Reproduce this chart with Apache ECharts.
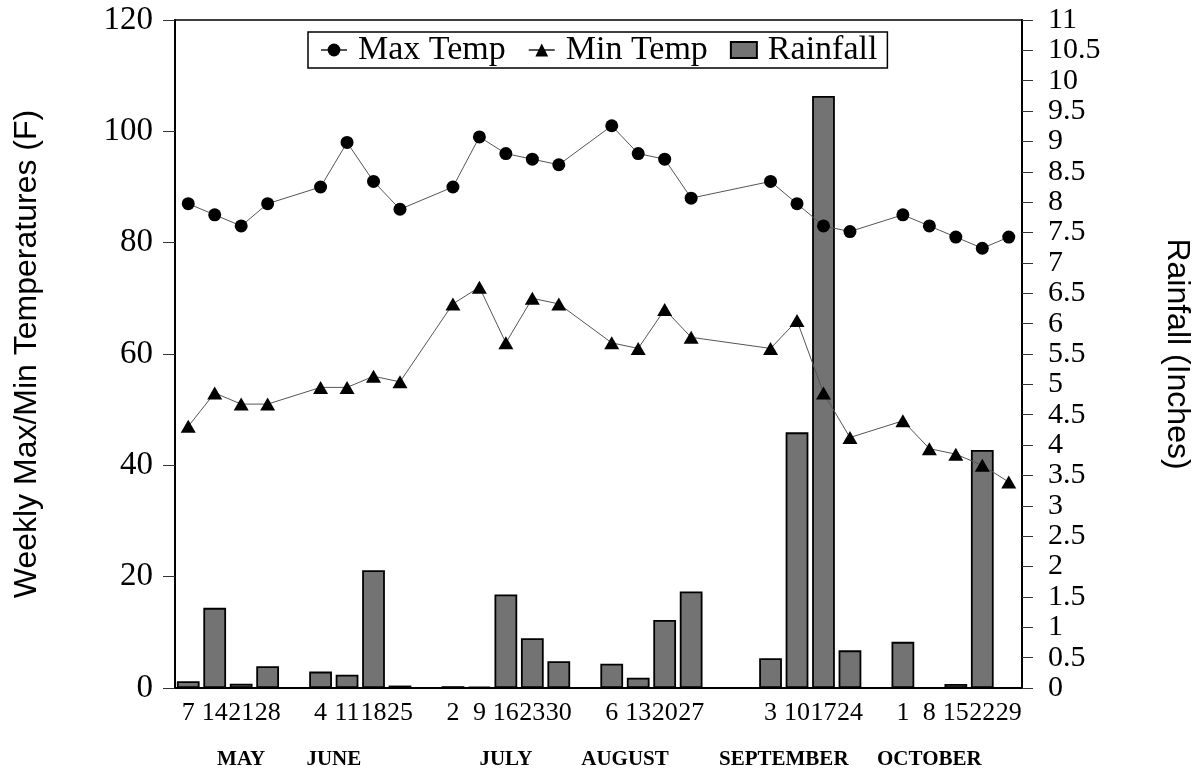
<html>

<head>
    <meta charset="utf-8"/>
    <title>Weekly temperatures and rainfall</title>
    <script src="https://cdn.jsdelivr.net/npm/echarts@6/dist/echarts.min.js"></script>
    <style>
            body {
                margin: 0;
                padding: 0;
                background: #fff;
            }
            #chart {
                width: 1197px;
                height: 771px;
            }
    </style>
</head>

<body>
<div id="chart"></div>
<script type="text/javascript">
// week start days, '' = spacer slot between months
let days = ['7', '14', '21', '28', '',
  '4', '11', '18', '25', '',
  '2', '9', '16', '23', '30', '',
  '6', '13', '20', '27', '', '',
  '3', '10', '17', '24', '',
  '1', '8', '15', '22', '29'];

let maxTemp = [87, 85, 83, 87, null,
  90, 98, 91, 86, null,
  90, 99, 96, 95, 94, null,
  101, 96, 95, 88, null, null,
  91, 87, 83, 82, null,
  85, 83, 81, 79, 81];

let minTemp = [47, 53, 51, 51, null,
  54, 54, 56, 55, null,
  69, 72, 62, 70, 69, null,
  62, 61, 68, 63, null, null,
  61, 66, 53, 45, null,
  48, 43, 42, 40, 37];

let rainfall = [0.11, 1.32, 0.07, 0.36, null,
  0.27, 0.22, 1.94, 0.04, null,
  0.03, 0.02, 1.54, 0.82, 0.44, null,
  0.40, 0.17, 1.12, 1.59, null, null,
  0.49, 4.21, 9.75, 0.62, null,
  0.76, 0, 0.065, 3.92, 0];

let monthNames = ['MAY', 'JUNE', 'JULY', 'AUGUST', 'SEPTEMBER', 'OCTOBER'];
let monthPos = [2, 5.5, 12, 16.5, 22.5, 28];

let serif = '"Times New Roman", "Liberation Serif", serif';
let sans = 'Arial, "Liberation Sans", sans-serif';

let chart = echarts.init(document.getElementById('chart'));

chart.setOption({
  animation: false,
  backgroundColor: '#fff',
  grid: {
    left: 175,
    right: 175,
    top: 20,
    bottom: 83,
    containLabel: false,
    outerBoundsMode: 'none',
    show: true,
    borderColor: '#000',
    borderWidth: 1.5
  },
  legend: {
    left: 308,
    top: 32,
    padding: [1, 10, 1, 12],
    itemGap: 22,
    itemWidth: 26,
    itemHeight: 16,
    borderColor: '#000',
    borderWidth: 1.5,
    textStyle: {
      fontFamily: serif,
      fontSize: 34,
      color: '#000',
      padding: [0, 0, 0, 6]
    },
    data: [
      {name: 'Max Temp'},
      {name: 'Min Temp'},
      {name: 'Rainfall', icon: 'rect'}
    ]
  },
  xAxis: [
    {
      type: 'category',
      data: days,
      position: 'bottom',
      axisLine: {show: true, onZero: false, lineStyle: {color: '#000', width: 2}},
      axisTick: {show: false},
      splitLine: {show: false},
      axisLabel: {
        interval: 0,
        hideOverlap: false,
        margin: 12,
        color: '#000',
        fontFamily: serif,
        fontSize: 26
      }
    },
    {
      // month names under the day labels
      type: 'value',
      position: 'bottom',
      offset: 49,
      min: -0.5,
      max: 31.5,
      interval: 0.5,
      axisLine: {show: false, onZero: false},
      axisTick: {show: false},
      splitLine: {show: false},
      axisLabel: {
        margin: 12,
        color: '#000',
        fontFamily: serif,
        fontWeight: 'bold',
        fontSize: 21,
        showMinLabel: true,
        showMaxLabel: true,
        formatter: function (v) {
          let i = monthPos.indexOf(v);
          return i >= 0 ? monthNames[i] : '';
        }
      }
    }
  ],
  yAxis: [
    {
      type: 'value',
      position: 'left',
      min: 0,
      max: 120,
      interval: 20,
      name: 'Weekly Max/Min Temperatures (F)',
      nameLocation: 'middle',
      nameGap: 132,
      nameTextStyle: {fontFamily: sans, fontSize: 32, color: '#000'},
      axisLine: {show: true, onZero: false, lineStyle: {color: '#000', width: 2}},
      axisTick: {show: true, length: 12, lineStyle: {color: '#333'}},
      splitLine: {show: false},
      axisLabel: {margin: 22, color: '#000', fontFamily: serif, fontSize: 33}
    },
    {
      type: 'value',
      position: 'right',
      min: 0,
      max: 11,
      interval: 0.5,
      name: 'Rainfall (Inches)',
      nameLocation: 'middle',
      nameRotate: -90,
      nameGap: 139,
      nameTextStyle: {fontFamily: sans, fontSize: 32, color: '#000'},
      axisLine: {show: true, onZero: false, lineStyle: {color: '#000', width: 2}},
      axisTick: {show: true, length: 11, lineStyle: {color: '#333'}},
      splitLine: {show: false},
      axisLabel: {margin: 26, color: '#000', fontFamily: serif, fontSize: 30}
    }
  ],
  series: [
    {
      name: 'Rainfall',
      type: 'bar',
      xAxisIndex: 0,
      yAxisIndex: 1,
      data: rainfall,
      barCategoryGap: '14%',
      itemStyle: {
        color: '#737373',
        borderColor: '#000',
        borderWidth: 1.8
      }
    },
    {
      name: 'Max Temp',
      type: 'line',
      xAxisIndex: 0,
      yAxisIndex: 0,
      data: maxTemp,
      connectNulls: true,
      symbol: 'circle',
      symbolSize: 13,
      itemStyle: {color: '#000'},
      lineStyle: {color: '#555', width: 1}
    },
    {
      name: 'Min Temp',
      type: 'line',
      xAxisIndex: 0,
      yAxisIndex: 0,
      data: minTemp,
      connectNulls: true,
      symbol: 'triangle',
      symbolSize: [15, 13],
      itemStyle: {color: '#000'},
      lineStyle: {color: '#555', width: 1}
    }
  ]
});
</script>
</body>

</html>
